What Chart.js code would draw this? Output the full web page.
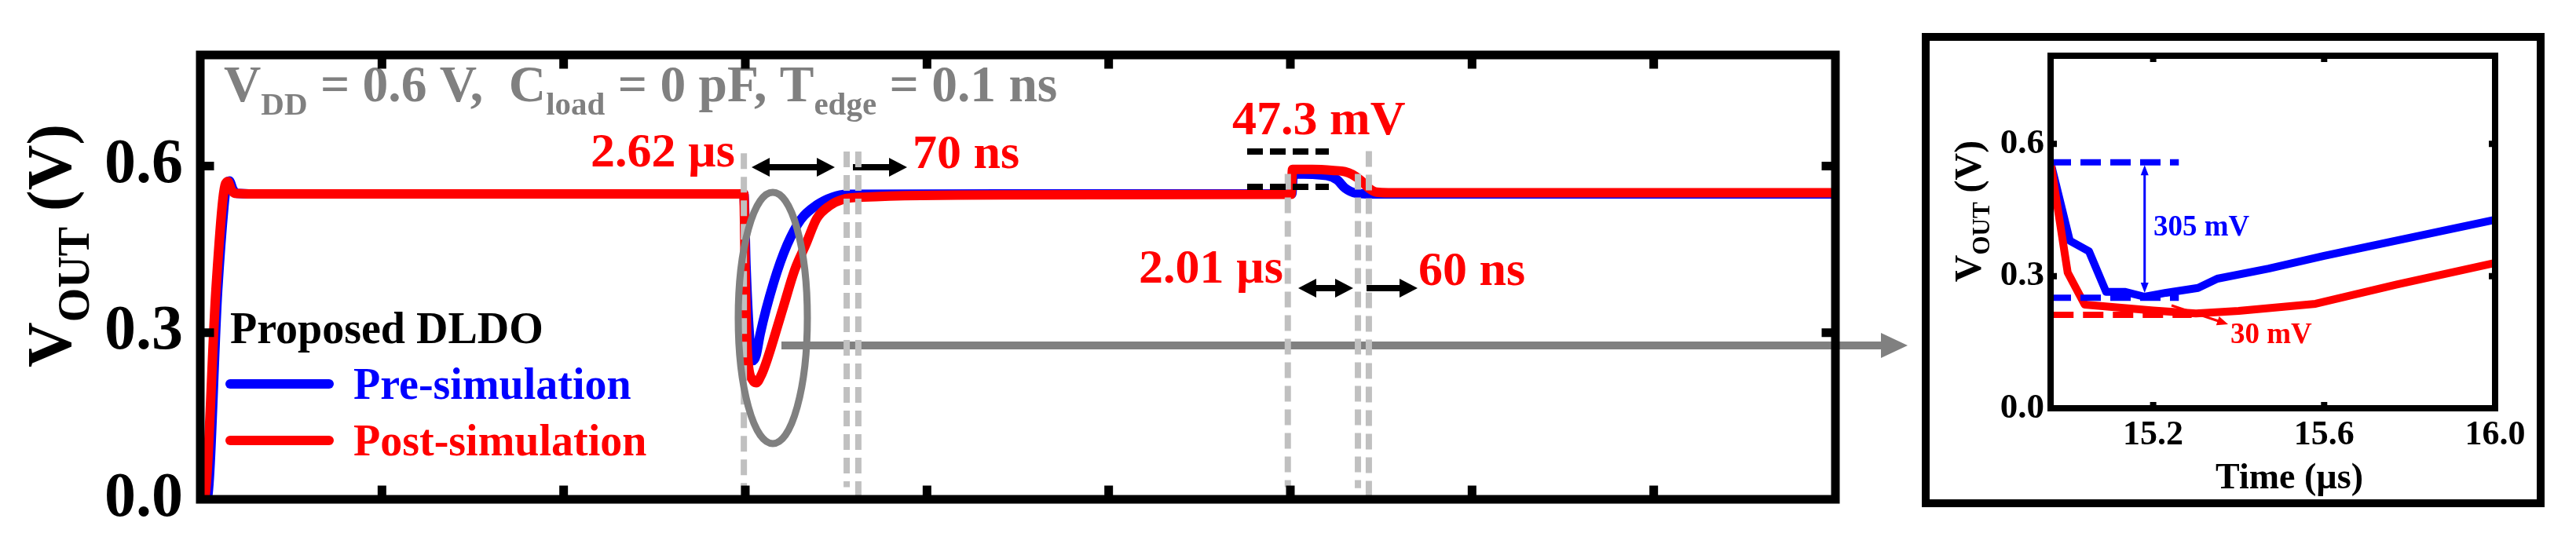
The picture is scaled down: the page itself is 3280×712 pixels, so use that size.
<!DOCTYPE html>
<html>
<head>
<meta charset="utf-8">
<script src="https://cdn.jsdelivr.net/npm/chart.js@4.4.1/dist/chart.umd.min.js"></script>
<style>
  html, body { margin: 0; padding: 0; background: #fff; }
  #wrap { position: relative; width: 3280px; height: 712px; overflow: hidden; }
  canvas { position: absolute; top: 0; }
  #main { left: 0; }
  #inset { left: 2440px; }
</style>
</head>
<body>
<div id="wrap">
  <canvas id="main" width="2440" height="712"></canvas>
  <canvas id="inset" width="840" height="712"></canvas>
</div>
<script>
const FAMILY = "'Liberation Serif', 'Times New Roman', serif"
const RED = "#ff0000"
const BLUE = "#0000ff"
const GRAY = "#808080"
const LIGHT_GRAY = "#c0c0c0"

// full transient, time in µs, V_OUT in V
const MAIN_T_PRE = [0, 0.18, 0.48, 0.65, 0.72, 0.8, 0.9, 1.0, 1.5, 14.96, 15.02, 15.12, 15.22, 15.3, 15.41, 15.78, 16.15, 16.53, 16.97, 17.4, 17.8, 22, 30.04, 30.08, 31.0, 31.29, 31.51, 31.81, 32.1, 45]
const MAIN_V_PRE = [0, 0, 0.376, 0.526, 0.565, 0.573, 0.558, 0.551, 0.55, 0.55, 0.42, 0.29, 0.25, 0.26, 0.298, 0.39, 0.458, 0.504, 0.53, 0.544, 0.549, 0.55, 0.55, 0.586, 0.583, 0.575, 0.56, 0.551, 0.55, 0.55]
const MAIN_T_POST = [0, 0.1, 0.43, 0.6, 0.68, 0.76, 0.85, 0.95, 1.5, 14.96, 15.0, 15.06, 15.2, 15.3, 15.45, 15.61, 16.04, 16.36, 16.66, 16.97, 17.33, 17.68, 18.26, 22, 30.02, 30.06, 30.6, 31.2, 31.5, 31.7, 31.94, 32.16, 32.37, 32.7, 45]
const MAIN_V_POST = [0, 0, 0.376, 0.526, 0.565, 0.572, 0.558, 0.551, 0.55, 0.55, 0.4, 0.26, 0.215, 0.21, 0.225, 0.253, 0.345, 0.413, 0.458, 0.506, 0.529, 0.54, 0.544, 0.548, 0.549, 0.594, 0.594, 0.592, 0.59, 0.585, 0.574, 0.56, 0.553, 0.552, 0.552]
const MAIN_X_TICKS = [5, 10, 15, 20, 25, 30, 35, 40]
const MAIN_Y_TICKS = [0, 0.3, 0.6]

// zoom on the first load step
const INSET_T_PRE = [14.96, 15.005, 15.05, 15.09, 15.135, 15.18, 15.23, 15.305, 15.35, 15.47, 15.6, 16.0]
const INSET_V_PRE = [0.558, 0.38, 0.356, 0.264, 0.264, 0.253, 0.262, 0.273, 0.294, 0.317, 0.346, 0.428]
const INSET_T_POST = [14.96, 15.0, 15.04, 15.2, 15.3, 15.4, 15.58, 15.77, 16.0]
const INSET_V_POST = [0.558, 0.308, 0.235, 0.222, 0.215, 0.221, 0.237, 0.281, 0.33]
const INSET_X_TICKS = [15.2, 15.6, 16.0]
const INSET_Y_TICKS = [0, 0.3, 0.6]

const font = (size) => `bold ${size}px ${FAMILY}`
const toPoints = (ts, vs) => ts.map((t, i) => ({ x: t, y: vs[i] }))

// runs: [text, isSubscript]
const drawRich = (ctx, x, y, runs, o) => {
  let w = 0
  runs.forEach(([s, sub]) => {
    ctx.font = font(sub ? o.subSize : o.size)
    w += ctx.measureText(s).width
  })
  let cx = o.align === "center" ? x - w / 2 : o.align === "right" ? x - w : x
  ctx.fillStyle = o.color
  ctx.textAlign = "left"
  ctx.textBaseline = "alphabetic"
  runs.forEach(([s, sub]) => {
    ctx.font = font(sub ? o.subSize : o.size)
    ctx.fillText(s, cx, y + (sub ? o.subDy : 0))
    cx += ctx.measureText(s).width
  })
}

const text = (ctx, s, x, y, size, color, align = "left") =>
  drawRich(ctx, x, y, [[s]], { size, color, align })

const vTitle = (ctx, x, cy, size, subSize, subDy) => {
  ctx.save()
  ctx.translate(x, cy)
  ctx.rotate(-Math.PI / 2)
  drawRich(ctx, 0, 0, [["V"], ["OUT", 1], [" (V)"]], { size, subSize, subDy, color: "#000", align: "center" })
  ctx.restore()
}

const head = (ctx, x, y, ux, uy, len, half) => {
  ctx.beginPath()
  ctx.moveTo(x, y)
  ctx.lineTo(x - ux * len - uy * half, y - uy * len + ux * half)
  ctx.lineTo(x - ux * len + uy * half, y - uy * len - ux * half)
  ctx.closePath()
  ctx.fill()
}

const arrow = (ctx, x1, y1, x2, y2, both, color, lw, hl, hh) => {
  const d = Math.hypot(x2 - x1, y2 - y1)
  const ux = (x2 - x1) / d
  const uy = (y2 - y1) / d
  const s = both ? hl * 0.8 : 0
  ctx.strokeStyle = color
  ctx.fillStyle = color
  ctx.lineWidth = lw
  ctx.lineCap = "butt"
  ctx.setLineDash([])
  ctx.beginPath()
  ctx.moveTo(x1 + ux * s, y1 + uy * s)
  ctx.lineTo(x2 - ux * hl * 0.8, y2 - uy * hl * 0.8)
  ctx.stroke()
  head(ctx, x2, y2, ux, uy, hl, hh)
  if (both) head(ctx, x1, y1, -ux, -uy, hl, hh)
}

const dashed = (ctx, x1, y1, x2, y2, color, lw, dash) => {
  ctx.strokeStyle = color
  ctx.lineWidth = lw
  ctx.lineCap = "butt"
  ctx.setLineDash(dash)
  ctx.beginPath()
  ctx.moveTo(x1, y1)
  ctx.lineTo(x2, y2)
  ctx.stroke()
  ctx.setLineDash([])
}

const frame = (ctx, a, lw, tickLen, xs, ys, px, py) => {
  ctx.strokeStyle = "#000"
  ctx.setLineDash([])
  ctx.lineCap = "butt"
  ctx.lineWidth = lw
  ctx.strokeRect(a.left, a.top, a.right - a.left, a.bottom - a.top)
  ctx.beginPath()
  xs.forEach((t) => {
    const x = px(t)
    ctx.moveTo(x, a.top); ctx.lineTo(x, a.top + lw / 2 + tickLen)
    ctx.moveTo(x, a.bottom); ctx.lineTo(x, a.bottom - lw / 2 - tickLen)
  })
  ys.forEach((v) => {
    const y = py(v)
    ctx.moveTo(a.left, y); ctx.lineTo(a.left + lw / 2 + tickLen, y)
    ctx.moveTo(a.right, y); ctx.lineTo(a.right - lw / 2 - tickLen, y)
  })
  ctx.stroke()
}

const mainDecor = {
  id: "mainDecor",
  afterDatasetsDraw(chart) {
    const { ctx, chartArea: a } = chart
    const px = (t) => chart.scales.x.getPixelForValue(t)
    const py = (v) => chart.scales.y.getPixelForValue(v)
    ctx.save()

    drawRich(ctx, 285, 129,
      [["V"], ["DD", 1], [" = 0.6 V,  C"], ["load", 1], [" = 0 pF, T"], ["edge", 1], [" = 0.1 ns"]],
      { size: 65.5, subSize: 41, subDy: 17, color: GRAY })

    // legend
    text(ctx, "Proposed DLDO", 293, 437, 56, "#000")
    ctx.lineCap = "round"
    ctx.lineWidth = 12
    ;[[BLUE, 489], [RED, 561]].forEach(([c, y]) => {
      ctx.strokeStyle = c
      ctx.beginPath(); ctx.moveTo(293, y); ctx.lineTo(419, y); ctx.stroke()
    })
    text(ctx, "Pre-simulation", 450, 508, 56, BLUE)
    text(ctx, "Post-simulation", 450, 580, 56, RED)

    // timing annotations
    text(ctx, "2.62 µs", 752, 212, 62, RED)
    text(ctx, "70 ns", 1162, 214, 62, RED)
    text(ctx, "47.3 mV", 1569, 171, 62, RED)
    text(ctx, "2.01 µs", 1450, 360, 62, RED)
    text(ctx, "60 ns", 1806, 363, 62, RED)
    arrow(ctx, 957, 213, 1063, 213, true, "#000", 8, 23, 12)
    arrow(ctx, 1086, 213, 1155, 213, false, "#000", 8, 23, 12)
    arrow(ctx, 1653, 367, 1723, 367, true, "#000", 8, 23, 12)
    arrow(ctx, 1740, 367, 1805, 367, false, "#000", 8, 23, 12)

    // pointer to the inset
    arrow(ctx, 995, 440, 2429, 440, false, GRAY, 10, 34, 16)

    // settling markers
    const guides = [[14.96, 0.623, 0.003], [17.79, 0.626, 0.022], [18.11, 0.626, 0.003],
      [29.93, 0.586, 0.022], [31.86, 0.586, 0.02], [32.16, 0.627, 0.005]]
    guides.forEach(([t, v1, v2]) => dashed(ctx, px(t), py(v1), px(t), py(v2), LIGHT_GRAY, 8, [20, 10]))

    ctx.strokeStyle = GRAY
    ctx.lineWidth = 9
    ctx.beginPath()
    ctx.ellipse(984, 405, 44, 160, 0, 0, Math.PI * 2)
    ctx.stroke()

    dashed(ctx, 1588, 193, 1692, 193, "#000", 8, [20, 9])
    dashed(ctx, 1588, 238, 1692, 238, "#000", 8, [20, 9])

    frame(ctx, a, 11, 12, MAIN_X_TICKS, MAIN_Y_TICKS.filter((v) => v > 0), px, py)
    vTitle(ctx, 90, 313, 80, 56, 23)
    ctx.restore()
  },
}

const insetDecor = {
  id: "insetDecor",
  afterDatasetsDraw(chart) {
    const { ctx, chartArea: a } = chart
    const px = (t) => chart.scales.x.getPixelForValue(t)
    const py = (v) => chart.scales.y.getPixelForValue(v)
    ctx.save()

    dashed(ctx, px(14.96), py(0.558), px(15.26), py(0.558), BLUE, 8, [26, 12])
    dashed(ctx, px(14.96), py(0.251), px(15.26), py(0.251), BLUE, 8, [26, 12])
    dashed(ctx, px(14.966), py(0.212), px(15.29), py(0.212), RED, 8, [26, 12])
    arrow(ctx, px(15.18), py(0.552), px(15.18), py(0.262), true, BLUE, 3, 13, 5)
    arrow(ctx, 325, 389, 397, 413, false, RED, 3, 14, 6)
    text(ctx, "305 mV", 302, 300, 37, BLUE)
    text(ctx, "30 mV", 400, 437, 37, RED)

    frame(ctx, a, 8, 4, INSET_X_TICKS.filter((t) => t < 16), INSET_Y_TICKS.filter((v) => v > 0), px, py)

    ctx.strokeStyle = "#000"
    ctx.lineWidth = 10
    ctx.strokeRect(12, 47, 783, 594)

    vTitle(ctx, 82, 269, 48, 31, 11)
    text(ctx, "Time (µs)", 475, 622, 46, "#000", "center")
    ctx.restore()
  },
}

const baseOptions = (padding) => ({
  responsive: false,
  animation: false,
  devicePixelRatio: 1,
  layout: { padding },
  plugins: { legend: { display: false }, tooltip: { enabled: false } },
  elements: { point: { radius: 0 } },
})

const tickFont = (size) => ({ family: FAMILY, size, weight: "bold" })

const draw = () => {
  new Chart(document.getElementById("main"), {
    type: "line",
    data: {
      datasets: [
        { label: "Post-simulation", data: toPoints(MAIN_T_POST, MAIN_V_POST), borderColor: RED, borderWidth: 12, order: 0,
          cubicInterpolationMode: "monotone", borderJoinStyle: "round", borderCapStyle: "round" },
        { label: "Pre-simulation", data: toPoints(MAIN_T_PRE, MAIN_V_PRE), borderColor: BLUE, borderWidth: 12, order: 1,
          cubicInterpolationMode: "monotone", borderJoinStyle: "round", borderCapStyle: "round" },
      ],
    },
    options: {
      ...baseOptions({ left: 0, right: 103, top: 49, bottom: 76 }),
      scales: {
        x: { type: "linear", min: 0, max: 45, display: false },
        y: {
          min: 0,
          max: 0.8,
          afterFit: (s) => { s.width = 255 },
          afterBuildTicks: (s) => { s.ticks = MAIN_Y_TICKS.map((v) => ({ value: v })) },
          grid: { display: false, drawTicks: false },
          border: { display: false },
          ticks: { padding: 22, color: "#000", font: tickFont(80), callback: (v) => v.toFixed(1) },
        },
      },
    },
    plugins: [mainDecor],
  })

  new Chart(document.getElementById("inset"), {
    type: "line",
    data: {
      datasets: [
        { data: toPoints(INSET_T_POST, INSET_V_POST), borderColor: RED, borderWidth: 10, order: 0, tension: 0, borderJoinStyle: "round" },
        { data: toPoints(INSET_T_PRE, INSET_V_PRE), borderColor: BLUE, borderWidth: 10, order: 1, tension: 0, borderJoinStyle: "round" },
      ],
    },
    options: {
      ...baseOptions({ left: 0, right: 103, top: 71, bottom: 0 }),
      scales: {
        x: {
          type: "linear",
          min: 14.96,
          max: 16.0,
          afterFit: (s) => { s.height = 192 },
          afterBuildTicks: (s) => { s.ticks = INSET_X_TICKS.map((v) => ({ value: v })) },
          grid: { display: false, drawTicks: false },
          border: { display: false },
          ticks: { padding: 8, maxRotation: 0, autoSkip: false, color: "#000", font: tickFont(44), callback: (v) => v.toFixed(1) },
        },
        y: {
          min: 0,
          max: 0.8,
          afterFit: (s) => { s.width = 171 },
          afterBuildTicks: (s) => { s.ticks = INSET_Y_TICKS.map((v) => ({ value: v })) },
          grid: { display: false, drawTicks: false },
          border: { display: false },
          ticks: { padding: 8, color: "#000", font: tickFont(45), callback: (v) => v.toFixed(1) },
        },
      },
    },
    plugins: [insetDecor],
  })
}

document.fonts.load(font(40)).then(draw, draw)
</script>
</body>
</html>
